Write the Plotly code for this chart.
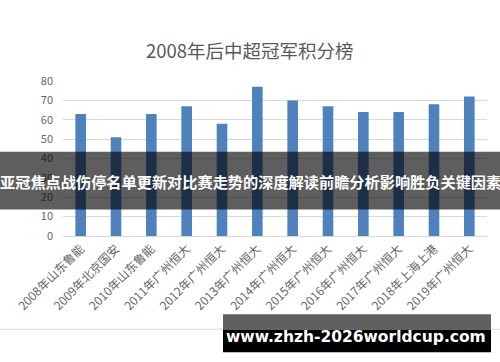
import plotly.graph_objects as go

categories = ["2008年山东鲁能", "2009年北京国安", "2010年山东鲁能", "2011年广州恒大",
              "2012年广州恒大", "2013年广州恒大", "2014年广州恒大", "2015年广州恒大",
              "2016年广州恒大", "2017年广州恒大", "2018年上海上港", "2019年广州恒大"]
points = [63, 51, 63, 67, 58, 77, 70, 67, 64, 64, 68, 72]
y_ticks = [0, 10, 20, 30, 40, 50, 60, 70, 80]

title_text = "2008年后中超冠军积分榜"
banner_text = "亚冠焦点战伤停名单更新对比赛走势的深度解读前瞻分析影响胜负关键因素"
watermark_text = "www.zhzh-2026worldcup.com"

W, H = 500, 362
L, R, T, B = 63, 13, 81, 125.5
PW = W - L - R
PH = H - T - B


def px(x):
    return (x - L) / PW


def py(y):
    return (H - B - y) / PH


CJK = "Noto Sans CJK SC"

fig = go.Figure(go.Bar(
    x=categories, y=points,
    marker=dict(color="#4f81bd", line=dict(width=0)),
))

fig.update_layout(
    width=W, height=H,
    margin=dict(l=L, r=R, t=T, b=B),
    paper_bgcolor="white", plot_bgcolor="white",
    bargap=0.7,
    showlegend=False,
    font=dict(family=CJK, color="#595959"),
    xaxis=dict(
        tickangle=-45, tickfont=dict(size=12, color="#666666", family=CJK),
        showgrid=False, showline=True, linecolor="#d9d9d9", linewidth=1,
        ticks="", fixedrange=True,
    ),
    yaxis=dict(
        range=[0, 80], tickvals=y_ticks, tickfont=dict(size=11, color="#666666", family=CJK),
        showgrid=True, gridcolor="#d9d9d9", gridwidth=1, zeroline=False,
        showline=False, ticks="", ticklabelstandoff=9,
    ),
)

shapes = [
    # chart frame bottom line
    dict(type="line", xref="paper", yref="paper", x0=px(0), x1=px(500), y0=py(330), y1=py(330),
         line=dict(color="#d9d9d9", width=1), layer="above"),
    # dark banner
    dict(type="rect", xref="paper", yref="paper", x0=px(0), x1=px(500), y0=py(210), y1=py(152),
         fillcolor="rgba(0,0,0,0.63)", line=dict(width=0), layer="above"),
    # watermark box (gray top, black bottom)
    dict(type="rect", xref="paper", yref="paper", x0=px(223), x1=px(491), y0=py(330.5), y1=py(315),
         fillcolor="#606060", line=dict(width=0), layer="above"),
    dict(type="rect", xref="paper", yref="paper", x0=px(223), x1=px(491), y0=py(353), y1=py(330.5),
         fillcolor="#000000", line=dict(width=0), layer="above"),
]
fig.update_layout(shapes=shapes)

fig.add_annotation(text=title_text, xref="paper", yref="paper", x=px(250), y=py(50),
                   showarrow=False, xanchor="center", yanchor="middle",
                   font=dict(size=18.5, color="#595959", family=CJK))
fig.add_annotation(text="<b>" + banner_text + "</b>", xref="paper", yref="paper", x=px(250), y=py(181),
                   showarrow=False, xanchor="center", yanchor="middle",
                   font=dict(size=15.2, color="white", family=CJK))
fig.add_annotation(text="<b>" + watermark_text + "</b>", xref="paper", yref="paper", x=px(356), y=py(338),
                   showarrow=False, xanchor="center", yanchor="middle",
                   font=dict(size=15.5, color="white", family="DejaVu Sans"))

fig.write_html("out.html", config={"displayModeBar": False})
